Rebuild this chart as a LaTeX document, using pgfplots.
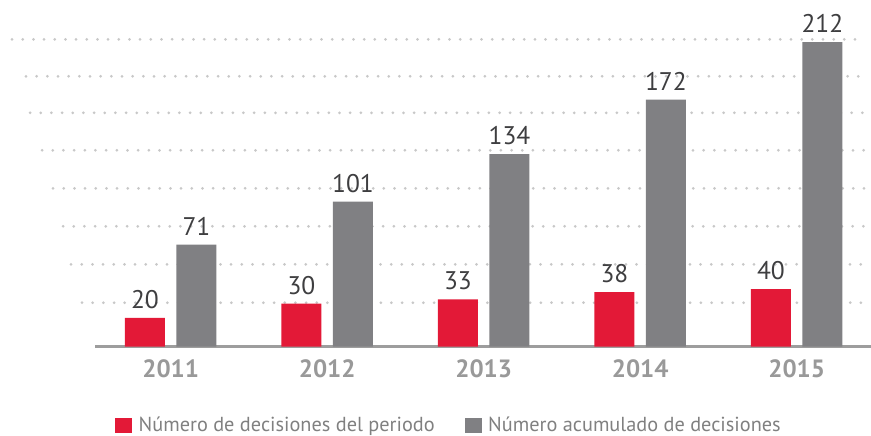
\documentclass[border=0pt]{standalone}
\usepackage{fontspec}
\setmainfont{PT Sans}
\usepackage{pgfplots}
\usepackage{pgfplotstable}
\pgfplotsset{compat=1.18}
\definecolor{rojo}{HTML}{E31937}
\definecolor{gris}{HTML}{808083}
\definecolor{puntos}{HTML}{C8C8C8}
\definecolor{base}{HTML}{9D9D9D}
\definecolor{etiq}{HTML}{3E3E40}
\definecolor{anio}{HTML}{999999}
\definecolor{leyenda}{HTML}{808080}

\pgfplotstableread{
x periodo acumulado
0 20 71
1 30 101
2 33 134
3 38 172
4 40 212
}\datos

\pgfplotsset{
  cuadro/.style={legend image code/.code={\fill[##1] (0pt,-7.5pt) rectangle (17pt,7.5pt);}},
  punteado/.style={forget plot, puntos, line width=3pt, line cap=round, dash pattern=on 0pt off 10.67pt},
  marco/.style={at={(95pt,89.3pt)}, anchor=south west,
    scale only axis, width=776pt, height=346.7pt,
    xmin=-0.484, xmax=4.475, ymin=0, ymax=241.3, clip=false},
}

\begin{document}
\begin{tikzpicture}
\useasboundingbox (0,0) rectangle (871pt,436pt);
% lineas punteadas escalonadas (fondo)
\begin{axis}[marco, hide axis]
\addplot[punteado] coordinates {(-1.014,213.9) (4.436,213.9)};
\addplot[punteado] coordinates {(-0.925,188.2) (4.436,188.2)};
\addplot[punteado] coordinates {(-0.899,162.8) (4.436,162.8)};
\addplot[punteado] coordinates {(-0.822,136.7) (4.436,136.7)};
\addplot[punteado] coordinates {(-0.752,110.2) (4.436,110.2)};
\addplot[punteado] coordinates {(-0.688,83.8) (4.436,83.8)};
\addplot[punteado] coordinates {(-0.637,57.3) (4.436,57.3)};
\addplot[punteado] coordinates {(-0.567,30.6) (4.436,30.6)};
\end{axis}

\begin{axis}[
  marco,
  ybar=11.5pt, bar width=40pt,
  hide y axis,
  axis x line=bottom,
  x axis line style={-, draw=base, line width=3pt},
  xtick={0,...,4}, xticklabels={2011,2012,2013,2014,2015},
  major tick length=0pt,
  xticklabel style={font=\fontsize{25}{30}\selectfont\bfseries, text=anio, yshift=-9pt},
  /pgf/number format/assume math mode=true,
  nodes near coords,
  every node near coord/.append style={font=\fontsize{25.5}{30}\selectfont, text=etiq, anchor=south, inner sep=0pt, yshift=9pt},
  legend columns=2,
  legend style={at={(0.0258,-0.226)}, anchor=west, draw=none, fill=none, inner sep=0pt,
    font=\fontsize{20.3}{25}\selectfont, text=leyenda,
    /tikz/every odd column/.append style={column sep=4.5pt},
    /tikz/every even column/.append style={column sep=28pt}},
]
\addplot[fill=rojo, draw=none, cuadro] table[x=x, y=periodo]{\datos};
\addlegendentry{Número de decisiones del periodo}
\addplot[fill=gris, draw=none, cuadro] table[x=x, y=acumulado]{\datos};
\addlegendentry{Número acumulado de decisiones}
\end{axis}
\end{tikzpicture}
\end{document}
